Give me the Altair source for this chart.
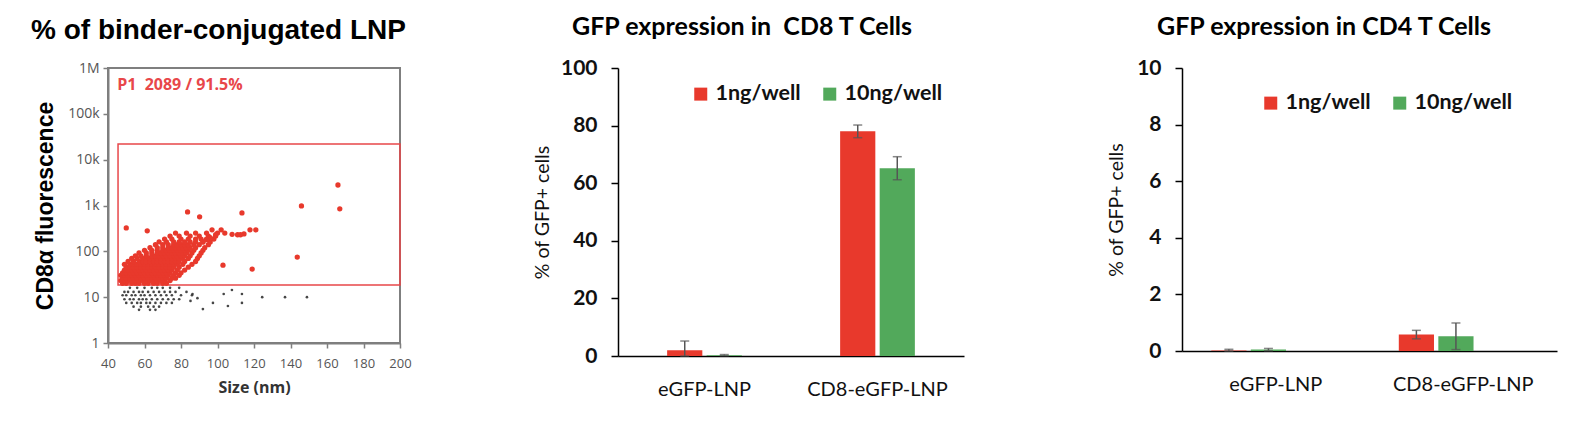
import altair as alt
import pandas as pd

RED = "#e8392c"
GREEN = "#52a95b"
GATE_RED = "#e8474a"

# ---- panel 1: flow scatter of binder-conjugated LNP ----
# gated (P1) events, listed as rows of equal fluorescence -> sizes (nm)
red_rows = {
    20: [48, 50, 53, 55, 57, 60, 62, 65, 67, 70, 72],
    23: [47, 49, 51, 53, 55, 57, 59, 61, 63, 65, 67, 69, 71, 74],
    26: [48, 50, 52, 54, 56, 58, 60, 62, 64, 66, 68, 70, 72, 75, 77],
    30: [47, 49, 51, 53, 55, 57, 59, 61, 63, 65, 67, 69, 71, 73, 76, 79],
    34: [48, 50, 52, 54, 56, 58, 60, 62, 64, 66, 68, 70, 72, 74, 77, 80],
    39: [49, 51, 53, 55, 57, 59, 61, 63, 65, 67, 69, 71, 73, 75, 78, 82],
    45: [50, 52, 54, 56, 58, 60, 62, 64, 66, 68, 70, 72, 74, 76, 79, 84],
    52: [49, 52, 54, 56, 58, 60, 62, 64, 66, 68, 70, 72, 74, 76, 78, 81, 86],
    60: [51, 54, 57, 59, 61, 63, 65, 67, 69, 71, 73, 75, 77, 79, 82, 88],
    70: [53, 56, 59, 61, 63, 65, 67, 69, 71, 73, 75, 77, 79, 81, 84, 89],
    80: [55, 58, 61, 64, 66, 68, 70, 72, 74, 76, 78, 80, 82, 85, 90],
    92: [57, 61, 64, 67, 69, 71, 73, 75, 77, 79, 81, 83, 86, 91],
    105: [60, 64, 67, 70, 72, 74, 76, 78, 80, 82, 84, 87, 92],
    120: [63, 67, 70, 73, 75, 77, 79, 81, 83, 85, 88, 93],
    140: [66, 70, 73, 76, 78, 80, 82, 84, 87, 90, 95],
    160: [68, 72, 76, 79, 82, 85, 88, 92, 96],
    185: [71, 75, 80, 84, 88, 91, 94, 98],
    215: [74, 79, 85, 90, 95, 99],
    250: [77, 83, 88, 94, 100],
}
red_extra_size = [50, 61.5, 83.6, 90.2, 113.4, 146, 166, 167, 143.7, 119, 103,
                  117.8, 121, 114.5, 111, 112.6, 102, 97, 104, 96, 92, 94, 99, 108]
red_extra_fl = [324, 280, 725, 565, 690, 980, 2800, 845, 75, 41, 50,
                294, 294, 240, 230, 230, 294, 294, 250, 200, 160, 180, 230, 235]

# events below the gate
black_rows = {
    16: [52, 56, 60, 64, 67, 70, 74, 79],
    13: [49, 51, 54, 57, 59, 62, 65, 68, 71, 74, 77, 83],
    11: [48, 50, 53, 55, 58, 60, 63, 66, 69, 72, 75, 80, 86],
    9: [49, 52, 54, 57, 59, 61, 64, 67, 70, 73, 76, 79],
    7.5: [50, 53, 56, 58, 61, 63, 66, 69, 72, 75],
    6.2: [54, 58, 62, 65, 68],
    5.3: [57, 63, 66],
}
black_extra_size = [124.5, 137, 149, 92, 97.5, 103.4, 107.9, 113.4, 113.4, 105.7, 86.3, 85.2, 89]
black_extra_fl = [10, 10, 10, 5.5, 7.5, 11.7, 14.3, 11.7, 7.5, 6.4, 11.7, 8.3, 9.5]

gate_size = [45.5, 200]
gate_fl = [18.5, 22000]
size_ticks = [40, 60, 80, 100, 120, 140, 160, 180, 200]
fl_ticks = [1, 10, 100, 1000, 10000, 100000, 1000000]

# ---- panels 2 and 3: GFP expression ----
categories = ["eGFP-LNP", "CD8-eGFP-LNP"]
doses = ["1ng/well", "10ng/well"]
cd8_1ng = [2.0, 78.0]
cd8_1ng_err = [3.2, 2.2]
cd8_10ng = [0.3, 65.2]
cd8_10ng_err = [0.2, 4.0]
cd4_1ng = [0.02, 0.58]
cd4_1ng_err = [0.04, 0.15]
cd4_10ng = [0.05, 0.52]
cd4_10ng_err = [0.04, 0.47]


def rows_to_df(rows, extra_x, extra_y):
    recs = [{"size": s, "fl": f} for f, xs in rows.items() for s in xs]
    recs += [{"size": s, "fl": f} for s, f in zip(extra_x, extra_y)]
    return pd.DataFrame(recs)


red_df = rows_to_df(red_rows, red_extra_size, red_extra_fl)
black_df = rows_to_df(black_rows, black_extra_size, black_extra_fl)
gate_df = pd.DataFrame({"size": [gate_size[0]], "size_end": [gate_size[1]],
                        "fl": [gate_fl[0]], "fl_end": [gate_fl[1]]})
note_df = pd.DataFrame({"size": [45], "fl": [4.3e5], "label": ["P1\u00a0 2089 / 91.5%"]})

x_scat = alt.X("size:Q", title="Size (nm)",
               scale=alt.Scale(domain=[40, 200], nice=False, zero=False),
               axis=alt.Axis(values=size_ticks, grid=False, domainColor="#7f7f7f", domainWidth=2,
                             tickColor="#7f7f7f", tickWidth=1.5, tickSize=5,
                             labelFont="Open Sans", labelFontSize=13, labelColor="#555",
                             labelPadding=9, labelFlush=False, labelOverlap=False,
                             titleFont="Open Sans", titleFontSize=16,
                             titleFontWeight="bold", titleColor="#333", titlePadding=9))
y_scat = alt.Y("fl:Q", title="CD8α fluorescence",
               scale=alt.Scale(type="log", domain=[1, 1e6], nice=False),
               axis=alt.Axis(values=fl_ticks, grid=False, domainColor="#7f7f7f", domainWidth=2,
                             tickColor="#7f7f7f", tickWidth=1.5, tickSize=5,
                             labelFont="Open Sans", labelFontSize=14, labelColor="#555",
                             labelPadding=4, labelFlush=False, labelOverlap=False,
                             labelExpr="datum.value >= 1000000 ? '1M' : datum.value >= 1000 ? format(datum.value / 1000, 'd') + 'k' : format(datum.value, 'd')",
                             titleFont="Liberation Sans", titleFontSize=23, titleFontWeight="bold",
                             titleColor="black", titleX=-63, titleBaseline="middle"))

gate = alt.Chart(gate_df).mark_rect(fillOpacity=0, stroke=GATE_RED, strokeWidth=1.5).encode(
    x=x_scat, x2="size_end:Q", y=y_scat, y2="fl_end:Q")
black_pts = alt.Chart(black_df).mark_circle(size=7, color="#333", opacity=0.9).encode(x=x_scat, y=y_scat)
red_pts = alt.Chart(red_df).mark_circle(size=28, color=RED, opacity=1).encode(x=x_scat, y=y_scat)
note = alt.Chart(note_df).mark_text(align="left", baseline="middle", font="Open Sans", fontSize=16,
                                    fontWeight="bold", color=GATE_RED).encode(
    x=x_scat, y=y_scat, text="label:N")

scatter = alt.layer(gate, black_pts, red_pts, note).properties(
    width=292, height=275,
    view=alt.ViewBackground(stroke="#7f7f7f", strokeWidth=2),
    title=alt.TitleParams("% of binder-conjugated LNP", anchor="start", frame="group", dx=-77,
                          font="Liberation Sans", fontSize=28, fontWeight="bold", color="black",
                          offset=16))


def bar_panel(v1, e1, v10, e10, ymax, yticks, title, title_dx, width, height,
              cat_pad, off_pad, leg_x, leg_y, ytitle_x):
    df = pd.DataFrame({
        "cat": categories * 2,
        "dose": [doses[0]] * 2 + [doses[1]] * 2,
        "val": v1 + v10,
        "err": e1 + e10,
    })
    df["lo"] = (df["val"] - df["err"]).clip(lower=0)
    df["hi"] = df["val"] + df["err"]
    base = alt.Chart(df)
    x = alt.X("cat:N", sort=categories, title=None,
              scale=alt.Scale(paddingInner=cat_pad, paddingOuter=cat_pad / 2),
              axis=alt.Axis(labelAngle=0, ticks=False, domainColor="black", domainWidth=1.5,
                            labelFont="Lato", labelFontSize=20, labelColor="#111", labelPadding=23))
    xo = alt.XOffset("dose:N", sort=doses, scale=alt.Scale(paddingInner=off_pad, paddingOuter=0))
    yt = "% of GFP+ cells"
    y = alt.Y("val:Q", title=yt, scale=alt.Scale(domain=[0, ymax], nice=False),
              axis=alt.Axis(values=yticks, grid=False, domainColor="black", domainWidth=1.5,
                            tickColor="black", tickWidth=1.5, tickSize=7,
                            labelFont="Lato", labelFontSize=21, labelFontWeight="bold",
                            labelColor="#111", labelPadding=14,
                            titleFont="Lato", titleFontSize=19.5, titleFontWeight="normal",
                            titleColor="#111", titleX=ytitle_x, titleBaseline="middle"))
    bars = base.mark_bar().encode(
        x=x, xOffset=xo, y=y,
        color=alt.Color("dose:N", sort=doses, scale=alt.Scale(domain=doses, range=[RED, GREEN]),
                        legend=alt.Legend(title=None, orient="none", direction="horizontal",
                                          legendX=leg_x, legendY=leg_y, symbolType="square",
                                          symbolSize=169, symbolStrokeWidth=0, labelFont="Lato",
                                          labelFontSize=21.5, labelFontWeight="bold",
                                          labelColor="#111", columnPadding=18)))
    whisk = base.mark_rule(color="#555", strokeWidth=1.5).encode(
        x=x, xOffset=xo, y=alt.Y("lo:Q", title=yt), y2="hi:Q")
    cap_hi = base.mark_tick(color="#555", thickness=1.5, size=9).encode(
        x=x, xOffset=xo, y=alt.Y("hi:Q", title=yt))
    cap_lo = base.mark_tick(color="#555", thickness=1.5, size=9).encode(
        x=x, xOffset=xo, y=alt.Y("lo:Q", title=yt))
    return alt.layer(bars, whisk, cap_hi, cap_lo).properties(
        width=width, height=height,
        view=alt.ViewBackground(stroke="transparent"),
        title=alt.TitleParams(title, anchor="start", frame="group", dx=title_dx,
                              font="Lato", fontSize=25, fontWeight="bold", color="black",
                              offset=17))


cd8 = bar_panel(cd8_1ng, cd8_1ng_err, cd8_10ng, cd8_10ng_err, 100, [0, 20, 40, 60, 80, 100],
                "GFP expression in\u00a0 CD8 T Cells", -46, 346, 288, 0.568, 0.11, 72, 15, -76)
cd4 = bar_panel(cd4_1ng, cd4_1ng_err, cd4_10ng, cd4_10ng_err, 10, [0, 2, 4, 6, 8, 10],
                "GFP expression in CD4 T Cells", -25, 375, 283, 0.3125, 0.21, 78, 24, -66)

chart = alt.hconcat(scatter, cd8, cd4, spacing=218, bounds="flush").resolve_scale(
    color="independent"
).properties(
    padding={"left": 22, "top": 7, "right": 5, "bottom": 5}
).configure_view(strokeWidth=0)

chart.save("out.html", embed_options={"renderer": "svg", "actions": False})
